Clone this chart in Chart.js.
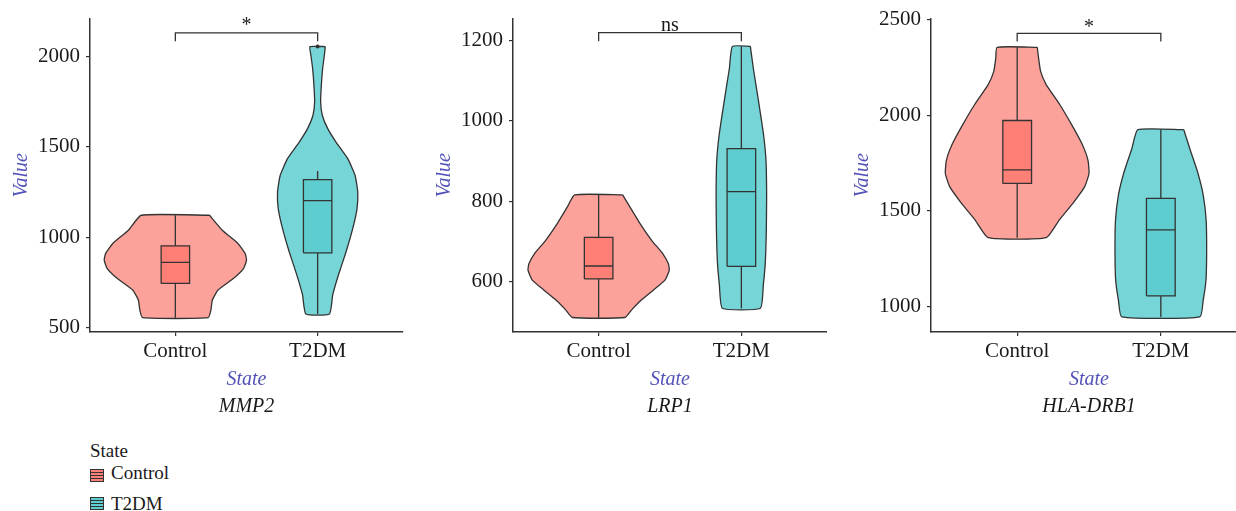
<!DOCTYPE html>
<html>
<head>
<meta charset="utf-8">
<script src="https://cdn.jsdelivr.net/npm/chart.js@4.4.1/dist/chart.umd.min.js"></script>
<style>
  body { margin: 0; background: #fff; width: 1236px; height: 511px; overflow: hidden; position: relative; font-family: "Liberation Serif", serif; }
  canvas { position: absolute; top: 0; }
  .lg { position: absolute; left: 90px; color: #1a1a1a; font-size: 19px; line-height: 22px; white-space: nowrap; }
  .key { position: absolute; left: 90px; width: 12px; height: 11px; border: 1px solid #333; box-sizing: content-box; }
  .key i { position: absolute; left: 0; right: 0; height: 1px; background: #333; }
</style>
</head>
<body>
<canvas id="c0" width="407" height="419" style="left:0px"></canvas>
<canvas id="c1" width="404" height="419" style="left:423px"></canvas>
<canvas id="c2" width="406" height="419" style="left:841px"></canvas>

<div class="lg" style="top:440px">State</div>
<div class="key" style="top:469px;background:#fd7f76"><i style="top:2px"></i><i style="top:5px"></i><i style="top:8px"></i></div>
<div class="lg" style="top:462px;left:111px">Control</div>
<div class="key" style="top:497px;background:#5ecdcf"><i style="top:2px"></i><i style="top:5px"></i><i style="top:8px"></i></div>
<div class="lg" style="top:493px;left:111px">T2DM</div>

<script>
// --- data ---
const categories = ["Control", "T2DM"];
const genes = ["MMP2", "LRP1", "HLA-DRB1"];
const yTicks = [[500, 1000, 1500, 2000], [600, 800, 1000, 1200], [1000, 1500, 2000, 2500]];
const yRanges = [[476, 2210], [475, 1254], [866, 2505]];

// violin outlines: values top -> bottom, half widths in category units
const mmp2ControlVals = [1122, 1039, 966, 911, 874, 828, 773, 708, 653, 598, 555];
const mmp2ControlWidths = [0.24, 0.33, 0.44, 0.49, 0.50, 0.48, 0.41, 0.30, 0.26, 0.25, 0.23];
const mmp2T2dmVals = [2055, 2006, 1932, 1840, 1748, 1674, 1601, 1527, 1435, 1343, 1251, 1159, 1049, 920, 791, 681, 576];
const mmp2T2dmWidths = [0.054, 0.047, 0.035, 0.026, 0.021, 0.033, 0.071, 0.129, 0.212, 0.263, 0.282, 0.277, 0.247, 0.200, 0.146, 0.106, 0.083];
const lrp1ControlVals = [816, 786, 745, 703, 670, 645, 629, 604, 579, 555, 530, 511];
const lrp1ControlWidths = [0.168, 0.219, 0.289, 0.371, 0.449, 0.488, 0.495, 0.465, 0.383, 0.301, 0.231, 0.184];
const lrp1T2dmVals = [1185, 1130, 1047, 964, 898, 815, 733, 650, 592, 534];
const lrp1T2dmWidths = [0.063, 0.084, 0.121, 0.156, 0.173, 0.177, 0.175, 0.168, 0.154, 0.133];
const hlaControlVals = [2355, 2298, 2229, 2160, 2057, 1953, 1850, 1764, 1695, 1626, 1540, 1454, 1359];
const hlaControlWidths = [0.140, 0.149, 0.163, 0.202, 0.295, 0.377, 0.451, 0.493, 0.500, 0.470, 0.389, 0.295, 0.202];
const hlaT2dmVals = [1924, 1824, 1703, 1583, 1445, 1273, 1134, 1031, 945];
const hlaT2dmWidths = [0.160, 0.202, 0.256, 0.295, 0.316, 0.319, 0.314, 0.295, 0.272];

// box stats: [min, q1, median, q3, max]
const mmp2Box = [[555, 745, 861, 953, 1122], [576, 914, 1203, 1319, 1367]];
const lrp1Box = [[511, 607, 639, 710, 816], [534, 638, 824, 931, 1185]];
const hlaBox = [[1359, 1643, 1714, 1972, 2355], [945, 1055, 1400, 1565, 1924]];
const mmp2Outliers = [[], [2055]];
const lrp1Outliers = [[], []];
const hlaOutliers = [[], []];

// significance brackets: [bar value, leg end value], label, label value
const brackets = [[2131, 2085], [1219, 1198], [2428, 2385]];
const sigLabels = ["*", "ns", "*"];
const sigLabelVals = [2173, 1235, 2455];

const violinFill = ["#fca29b", "#76d5d7"];
const boxFill = ["#fd7f76", "#5ecdcf"];
const lineCol = "#333333";
const boxHalf = 0.1;

const panels = [
  { vals: [mmp2ControlVals, mmp2T2dmVals], widths: [mmp2ControlWidths, mmp2T2dmWidths], box: mmp2Box, out: mmp2Outliers },
  { vals: [lrp1ControlVals, lrp1T2dmVals], widths: [lrp1ControlWidths, lrp1T2dmWidths], box: lrp1Box, out: lrp1Outliers },
  { vals: [hlaControlVals, hlaT2dmVals], widths: [hlaControlWidths, hlaT2dmWidths], box: hlaBox, out: hlaOutliers }
];

function violinPoints(pos, vals, widths) {
  const right = vals.map((v, i) => ({ x: pos + widths[i], y: v }));
  const left = vals.map((v, i) => ({ x: pos - widths[i], y: v })).reverse();
  return right.concat(left, [right[0]]);
}

function line(data, order, extra) {
  return Object.assign({ data, borderColor: lineCol, borderWidth: 1.3, pointRadius: 0, fill: false, tension: 0, order }, extra || {});
}

// draws the "*" / "ns" text above the bracket
const sigText = {
  id: "sigText",
  afterDatasetsDraw(chart, args, opts) {
    const ctx = chart.ctx;
    const x = chart.scales.x.getPixelForValue(1.5);
    const y = chart.scales.y.getPixelForValue(opts.value);
    ctx.save();
    ctx.font = '20px "Liberation Serif"';
    ctx.fillStyle = "#1a1a1a";
    ctx.textAlign = "center";
    ctx.textBaseline = "middle";
    ctx.fillText(opts.text, x, y);
    ctx.restore();
  }
};

const serif = "'Liberation Serif', serif";

panels.forEach((p, k) => {
  const datasets = [];
  for (let g = 0; g < 2; g++) {
    const pos = g + 1;
    const b = p.box[g];
    datasets.push(line(violinPoints(pos, p.vals[g], p.widths[g]), 10, { fill: "shape", backgroundColor: violinFill[g], tension: 0.15 }));
    datasets.push(line([{ x: pos, y: b[0] }, { x: pos, y: b[4] }], 9));
    datasets.push(line([
      { x: pos - boxHalf, y: b[1] }, { x: pos + boxHalf, y: b[1] },
      { x: pos + boxHalf, y: b[3] }, { x: pos - boxHalf, y: b[3] },
      { x: pos - boxHalf, y: b[1] }
    ], 8, { fill: "shape", backgroundColor: boxFill[g] }));
    datasets.push(line([{ x: pos - boxHalf, y: b[2] }, { x: pos + boxHalf, y: b[2] }], 7));
    if (p.out[g].length) {
      datasets.push(line(p.out[g].map(v => ({ x: pos, y: v })), 6, { showLine: false, pointRadius: 2, pointBackgroundColor: lineCol, pointBorderWidth: 0 }));
    }
  }
  const br = brackets[k];
  datasets.push(line([{ x: 1, y: br[1] }, { x: 1, y: br[0] }, { x: 2, y: br[0] }, { x: 2, y: br[1] }], 5));

  new Chart(document.getElementById("c" + k), {
    type: "line",
    data: { datasets },
    plugins: [sigText],
    options: {
      responsive: false,
      animation: false,
      events: [],
      devicePixelRatio: 1,
      layout: { padding: { top: 18, left: 0, right: 0, bottom: 0 } },
      plugins: {
        legend: { display: false },
        tooltip: { enabled: false },
        title: {
          display: true, position: "bottom", fullSize: false, text: genes[k], color: "#1a1a1a",
          font: { family: serif, size: 20, style: "italic", weight: "normal" },
          padding: { top: 3, bottom: 0 }
        },
        sigText: { text: sigLabels[k], value: sigLabelVals[k] }
      },
      scales: {
        x: {
          type: "linear", min: 0.4, max: 2.6,
          afterBuildTicks: s => { s.ticks = categories.map((c, i) => ({ value: i + 1 })); },
          afterFit: s => { s.height = 60; },
          ticks: {
            autoSkip: false, maxRotation: 0, padding: 3, color: "#1a1a1a",
            font: { family: serif, size: 21 },
            callback: v => categories[v - 1]
          },
          grid: { display: true, drawOnChartArea: false, drawTicks: true, tickLength: 4, color: lineCol, lineWidth: 1.2 },
          border: { display: true, color: lineCol, width: 1.5 },
          title: {
            display: true, text: "State", color: "#5252b8",
            font: { family: serif, size: 20, style: "italic" },
            padding: { top: 0, bottom: 0 }
          }
        },
        y: {
          type: "linear", min: yRanges[k][0], max: yRanges[k][1],
          afterBuildTicks: s => { s.ticks = yTicks[k].map(v => ({ value: v })); },
          afterFit: s => { s.width = 90; },
          ticks: { padding: 6, color: "#1a1a1a", font: { family: serif, size: 21 }, callback: v => String(v) },
          grid: { display: true, drawOnChartArea: false, drawTicks: true, tickLength: 4, color: lineCol, lineWidth: 1.2 },
          border: { display: true, color: lineCol, width: 1.5 },
          title: {
            display: true, text: "Value", color: "#5252b8",
            font: { family: serif, size: 20, style: "italic" },
            padding: { top: 10, bottom: 0 }
          }
        }
      }
    }
  });
});
</script>
</body>
</html>
